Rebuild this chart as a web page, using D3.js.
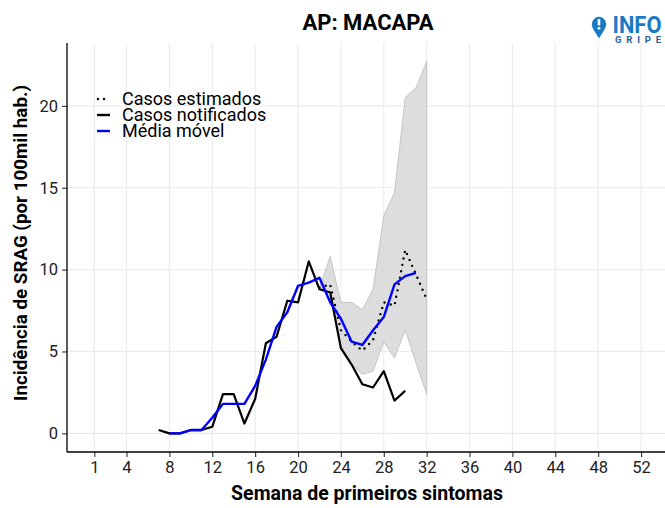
<!DOCTYPE html>
<html><head><meta charset="utf-8">
<script src="https://cdn.jsdelivr.net/npm/d3@7/dist/d3.min.js"></script>
<style>body{margin:0;background:#fff;} svg{display:block;font-family:Roboto,"Noto Sans",sans-serif;}</style>
</head><body>
<svg id="c" width="665" height="508"></svg>
<script>
const title = "AP: MACAPA";
const xTicks = [1,4,8,12,16,20,24,28,32,36,40,44,48,52];
const yTicks = [0,5,10,15,20];
const notifiedWeeks = d3.range(7,31);
const notified = [0.2,0,0,0.2,0.2,0.4,2.4,2.4,0.6,2.1,5.5,5.9,8.1,8.0,10.5,8.8,8.6,5.2,4.2,3.0,2.8,3.8,2.0,2.6];
const movWeeks = d3.range(8,32);
const movAvg = [0,0,0.2,0.2,0.95,1.8,1.8,1.8,2.9,4.5,6.5,7.4,9.0,9.2,9.5,8.0,7.0,5.6,5.4,6.3,7.1,9.1,9.6,9.8];
const estWeeks = d3.range(22,33);
const estimated = [8.9,9.1,6.3,5.6,5.05,5.7,8.0,7.8,11.2,9.7,8.2];
const upper = [8.9,10.8,8.0,8.0,7.55,8.8,13.3,14.7,20.5,21.1,22.7];
const lower = [8.9,8.6,5.3,4.2,3.6,3.8,5.6,4.6,6.3,4.3,2.4];
const legendLabels = ["Casos estimados","Casos notificados","Média móvel"];

const svg = d3.select("#c");
const L=67, R=668.4, T=43, B=452;
const x = d3.scaleLinear().domain([-1.55,54.55]).range([L,R]);
const y = d3.scaleLinear().domain([-1.14,23.84]).range([B,T]);

// grid
svg.append("g").selectAll("line").data(xTicks).join("line")
  .attr("x1",d=>x(d)).attr("x2",d=>x(d)).attr("y1",T).attr("y2",B)
  .attr("stroke","#ebebeb").attr("stroke-width",1.1);
svg.append("g").selectAll("line").data(yTicks).join("line")
  .attr("x1",L).attr("x2",665).attr("y1",d=>y(d)).attr("y2",d=>y(d))
  .attr("stroke","#ebebeb").attr("stroke-width",1.1);

// band
const area = d3.area().x((d,i)=>x(estWeeks[i])).y0((d,i)=>y(lower[i])).y1((d,i)=>y(upper[i]));
svg.append("path").datum(upper).attr("d",area)
  .attr("fill","#d9d9d9").attr("fill-opacity",0.9).attr("stroke","#b5b5b5").attr("stroke-width",0.7);

const line = (ws)=>d3.line().x((d,i)=>x(ws[i])).y(d=>y(d));
svg.append("path").datum(notified).attr("d",line(notifiedWeeks))
  .attr("fill","none").attr("stroke","#000").attr("stroke-width",2.2).attr("stroke-linejoin","round");
svg.append("path").datum(estimated).attr("d",line(estWeeks))
  .attr("fill","none").attr("stroke","#000").attr("stroke-width",2.4)
  .attr("stroke-dasharray","0,6.5").attr("stroke-linecap","round");
svg.append("path").datum(movAvg).attr("d",line(movWeeks))
  .attr("fill","none").attr("stroke","#0000ff").attr("stroke-width",2.4).attr("stroke-linejoin","round");

// axes
const xa = svg.append("g").attr("transform",`translate(0,${B})`)
  .call(d3.axisBottom(x).tickValues(xTicks).tickSize(5).tickPadding(4).tickFormat(d3.format("d")));
const ya = svg.append("g").attr("transform",`translate(${L},0)`)
  .call(d3.axisLeft(y).tickValues(yTicks).tickSize(5).tickPadding(4));
[xa,ya].forEach(a=>{
  a.select(".domain").remove();
  a.selectAll(".tick line").attr("stroke","#333").attr("stroke-width",1.1);
  a.selectAll("text").attr("fill","#222").style("font-size","16.5px").style("font-family","Roboto");
});
svg.append("line").attr("x1",L).attr("x2",L).attr("y1",T).attr("y2",B).attr("stroke","#000").attr("stroke-width",1.3);
svg.append("line").attr("x1",L).attr("x2",665).attr("y1",B).attr("y2",B).attr("stroke","#000").attr("stroke-width",1.3);

// titles
svg.append("text").attr("x",368).attr("y",29.5).attr("text-anchor","middle")
  .style("font-size","22px").style("font-weight","bold").attr("fill","#000").text(title);
svg.append("text").attr("x",367).attr("y",500).attr("text-anchor","middle")
  .style("font-size","19.5px").style("font-weight","bold").attr("fill","#000").text("Semana de primeiros sintomas");
svg.append("text").attr("transform","translate(27,243) rotate(-90)").attr("text-anchor","middle")
  .style("font-size","18.8px").style("font-weight","bold").attr("fill","#000").text("Incidência de SRAG (por 100mil hab.)");

// legend
const lg = svg.append("g");
const ky = [99,115,131];
lg.append("line").attr("x1",98).attr("x2",106).attr("y1",ky[0]).attr("y2",ky[0])
  .attr("stroke","#000").attr("stroke-width",2.4).attr("stroke-dasharray","0,6").attr("stroke-linecap","round");
lg.append("line").attr("x1",97).attr("x2",110).attr("y1",ky[1]).attr("y2",ky[1]).attr("stroke","#000").attr("stroke-width",2.4);
lg.append("line").attr("x1",97).attr("x2",110).attr("y1",ky[2]).attr("y2",ky[2]).attr("stroke","#0000ff").attr("stroke-width",2.4);
lg.selectAll("text").data(legendLabels).join("text")
  .attr("x",122).attr("y",(d,i)=>ky[i]+6).style("font-size","18px").attr("fill","#000").text(d=>d);

// logo
const lo = svg.append("g");
lo.append("path").attr("d","M599,38.5 C596,33 591.8,29 591.8,24 A7.2,7.2 0 1 1 606.2,24 C606.2,29 602,33 599,38.5 Z").attr("fill","#1a7bc4");
lo.append("rect").attr("x",597.7).attr("y",19).attr("width",2.6).attr("height",6.5).attr("rx",1).attr("fill","#fff");
lo.append("circle").attr("cx",599).attr("cy",28.3).attr("r",1.4).attr("fill","#fff");
lo.append("text").attr("x",612.5).attr("y",33.3).style("font-size","23px").style("font-weight","bold")
  .attr("fill","#1a7bc4").attr("textLength",49).attr("lengthAdjust","spacingAndGlyphs").text("INFO");
lo.append("text").attr("x",615).attr("y",42.6).style("font-size","9.5px").style("font-weight","bold")
  .attr("fill","#2a5d9a").attr("textLength",46).text("GRIPE");
</script>
</body></html>
